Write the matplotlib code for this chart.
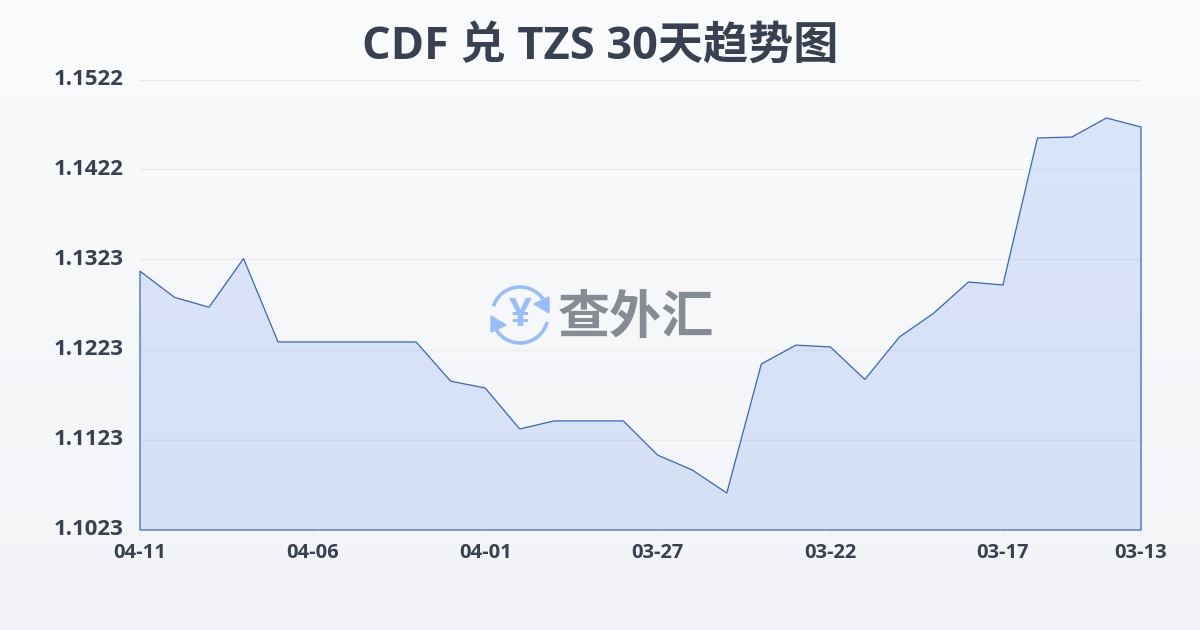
import numpy as np
import matplotlib
matplotlib.use('Agg')
import matplotlib.pyplot as plt
from matplotlib.patches import Arc, Polygon

plt.rcParams['font.family'] = ['Open Sans', 'Noto Sans CJK SC', 'DejaVu Sans']

# 数据 (从图上读取, 时间从新到旧)
rates = [1.1310, 1.1281, 1.1270, 1.1324, 1.12315, 1.12315, 1.12315, 1.12315, 1.12315, 1.1188,
         1.11805, 1.1135, 1.1144, 1.1144, 1.1144, 1.1106, 1.10895, 1.1064, 1.1207, 1.1228,
         1.1226, 1.1190, 1.1237, 1.12636, 1.1298, 1.12947, 1.14577, 1.14588, 1.14799, 1.14699]
x_ticks = [0, 5, 10, 15, 20, 25, 29]
x_labels = ['04-11', '04-06', '04-01', '03-27', '03-22', '03-17', '03-13']
y_ticks = [1.1023, 1.1123, 1.1223, 1.1323, 1.1423, 1.1522]
y_labels = ['1.1023', '1.1123', '1.1223', '1.1323', '1.1422', '1.1522']

W, H = 1200, 630
fig = plt.figure(figsize=(W / 100, H / 100), dpi=100)

# 背景渐变
bg = fig.add_axes([0, 0, 1, 1], zorder=0)
top = np.array([0xfa, 0xfb, 0xfc]) / 255
bottom = np.array([0xf2, 0xf4, 0xf7]) / 255
t = np.linspace(0, 1, 256)[:, None, None]
bg.imshow(top * (1 - t) + bottom * t, aspect='auto', extent=[0, W, H, 0])
bg.set_xlim(0, W)
bg.set_ylim(H, 0)
bg.axis('off')

# 主图
ax = fig.add_axes([140 / W, 1 - 530 / H, 1001 / W, 450 / H], zorder=1)
ax.patch.set_alpha(0)
xs = np.arange(len(rates))
ax.fill_between(xs, rates, 1.1023, facecolor='#4a80f0', alpha=0.17, linewidth=0, zorder=2)
ax.fill_between(xs, rates, 1.1023, facecolor='none', edgecolor='#3566c6', linewidth=0.9,
                zorder=3, clip_on=False)
ax.set_xlim(0, 29)
ax.set_ylim(1.1023, 1.1522)
ax.set_xticks(x_ticks, x_labels)
ax.set_yticks(y_ticks, y_labels)
ax.grid(True, axis='y', color='#e8eaee', linewidth=0.9, zorder=1)
for s in ax.spines.values():
    s.set_visible(False)
ax.tick_params(axis='x', length=5, width=0.8, color='#e8eaee', pad=4.5,
               labelsize=14.5, labelcolor='#374151')
ax.tick_params(axis='y', length=0, pad=12, labelsize=16, labelcolor='#374151')
for lab in ax.get_xticklabels() + ax.get_yticklabels():
    lab.set_fontweight('bold')
for lab in ax.get_yticklabels():
    lab.set_verticalalignment('center')

# 标题
fig.text(600 / W, 1 - 47 / H, 'CDF 兑 TZS 30天趋势图', ha='center', va='center',
         fontsize=32.5, fontweight='bold', color='#374151')

# 水印
over = fig.add_axes([0, 0, 1, 1], zorder=2)
over.patch.set_alpha(0)
over.set_xlim(0, W)
over.set_ylim(H, 0)
over.axis('off')
blue = '#97bdfb'
cx, cy = 520, 315
over.add_patch(Arc((cx, cy), 56, 56, theta1=198, theta2=325, color=blue, lw=2.6))
over.add_patch(Arc((cx, cy), 56, 56, theta1=14, theta2=152, color=blue, lw=2.6))
over.add_patch(Polygon([[549, 297], [549, 313], [534, 304]], closed=True, color=blue))
over.add_patch(Polygon([[491, 316], [491, 332], [506, 325]], closed=True, color=blue))
over.text(cx, cy, '¥', ha='center', va='center', fontsize=29, fontweight='bold',
          color=blue)
over.text(635.5, 318, '查外汇', ha='center', va='center', fontsize=37.5, fontweight='black',
          color='#868b94', family=['Noto Sans CJK SC'])

fig.savefig('out.png', dpi=100)
